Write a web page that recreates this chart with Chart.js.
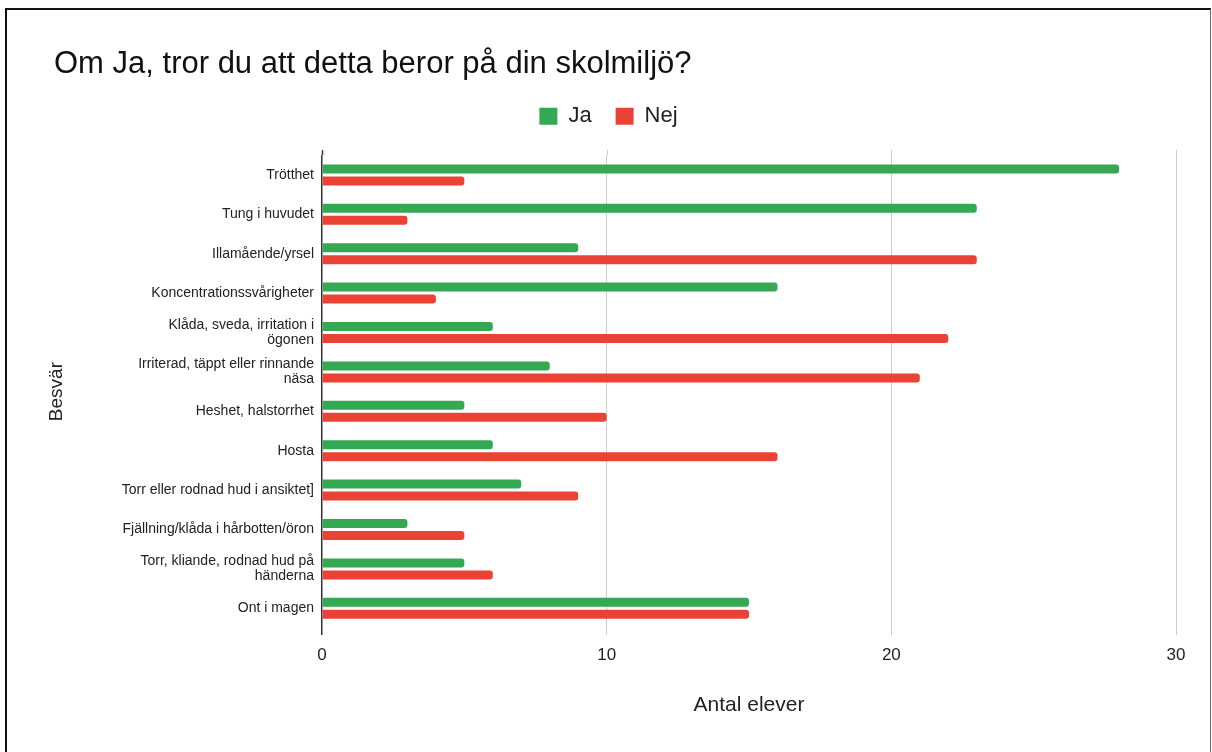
<!DOCTYPE html>
<html>
<head>
<meta charset="utf-8">
<script src="https://cdn.jsdelivr.net/npm/chart.js@4/dist/chart.umd.min.js"></script>
<style>
  html, body { margin: 0; padding: 0; background: #fff; }
  #wrap { position: relative; width: 1212px; height: 752px; overflow: hidden; }
  #frame {
    position: absolute; left: 5px; top: 8px; width: 1203px; height: 760px;
    border-top: 2px solid #111; border-left: 2px solid #111; border-right: 1px solid #666;
    pointer-events: none;
  }
</style>
</head>
<body>
<div id="wrap">
  <canvas id="chart" width="1212" height="752"></canvas>
  <div id="frame"></div>
</div>
<script>
const categories = [
  'Trötthet',
  'Tung i huvudet',
  'Illamående/yrsel',
  'Koncentrationssvårigheter',
  ['Klåda, sveda, irritation i', 'ögonen'],
  ['Irriterad, täppt eller rinnande', 'näsa'],
  'Heshet, halstorrhet',
  'Hosta',
  'Torr eller rodnad hud i ansiktet]',
  'Fjällning/klåda i hårbotten/öron',
  ['Torr, kliande, rodnad hud på', 'händerna'],
  'Ont i magen'
];
const jaValues  = [28, 23, 9, 16, 6, 8, 5, 6, 7, 3, 5, 15];
const nejValues = [5, 3, 23, 4, 22, 21, 10, 16, 9, 5, 6, 15];
const xTicks = [0, 10, 20, 30];

const font = 'Arial, "Liberation Sans", sans-serif';

// grid lines in Sheets stick out a little above the plot area
const gridTop = {
  id: 'gridTop',
  beforeDatasetsDraw(chart) {
    const { ctx, chartArea, scales } = chart;
    ctx.save();
    scales.x.ticks.forEach(t => {
      const x = Math.round(scales.x.getPixelForValue(t.value)) + 0.5;
      ctx.strokeStyle = t.value === 0 ? '#333' : '#ccc';
      ctx.lineWidth = t.value === 0 ? 1.5 : 1;
      ctx.beginPath();
      ctx.moveTo(x, chartArea.top - 5);
      ctx.lineTo(x, chartArea.top);
      ctx.stroke();
    });
    ctx.restore();
  }
};

// more room under the legend, and nudge it a bit to the left
const legendSpace = {
  id: 'legendSpace',
  afterInit(chart) {
    const lg = chart.legend;
    const fit = lg.fit.bind(lg);
    lg.fit = function () { fit(); this.height += 18; };
  },
  afterLayout(chart) {
    chart.legend.left -= 13;
  }
};

new Chart(document.getElementById('chart'), {
  type: 'bar',
  data: {
    labels: categories,
    datasets: [
      { label: 'Ja', data: jaValues, backgroundColor: '#34a853' },
      { label: 'Nej', data: nejValues, backgroundColor: '#ea4335' }
    ]
  },
  options: {
    indexAxis: 'y',
    responsive: false,
    animation: false,
    categoryPercentage: 0.61,
    barPercentage: 0.75,
    borderRadius: 3,
    layout: { padding: { left: 54, right: 36, top: 46, bottom: 20 } },
    scales: {
      x: {
        min: 0,
        max: 30,
        afterBuildTicks: s => { s.ticks = xTicks.map(v => ({ value: v })); },
        afterFit: s => { s.height = 104; },
        border: { display: false },
        grid: {
          color: c => c.tick && c.tick.value === 0 ? '#333' : '#ccc',
          lineWidth: c => c.tick && c.tick.value === 0 ? 1.5 : 1,
          drawTicks: true,
          tickLength: 7
        },
        ticks: { color: '#222', padding: 10, font: { family: font, size: 17 } },
        title: {
          display: true,
          text: 'Antal elever',
          color: '#222',
          padding: { top: 0, bottom: 14 },
          font: { family: font, size: 21 }
        }
      },
      y: {
        afterFit: s => { s.width = 322 - 54; },
        border: { display: false },
        grid: { display: false, drawTicks: false },
        ticks: { color: '#222', padding: 8, font: { family: font, size: 14, lineHeight: 1.07 } },
        title: {
          display: true,
          text: 'Besvär',
          color: '#222',
          padding: { top: -9, bottom: 0 },
          font: { family: font, size: 19 }
        }
      }
    },
    plugins: {
      title: {
        display: true,
        text: 'Om Ja, tror du att detta beror på din skolmiljö?',
        align: 'start',
        color: '#111',
        padding: { top: 0, bottom: -2 },
        font: { family: font, size: 31, weight: 'normal' }
      },
      legend: {
        labels: {
          boxWidth: 18,
          boxHeight: 17,
          padding: 24,
          color: '#222',
          font: { family: font, size: 22 }
        }
      },
      tooltip: { enabled: false }
    }
  },
  plugins: [gridTop, legendSpace]
});
</script>
</body>
</html>
